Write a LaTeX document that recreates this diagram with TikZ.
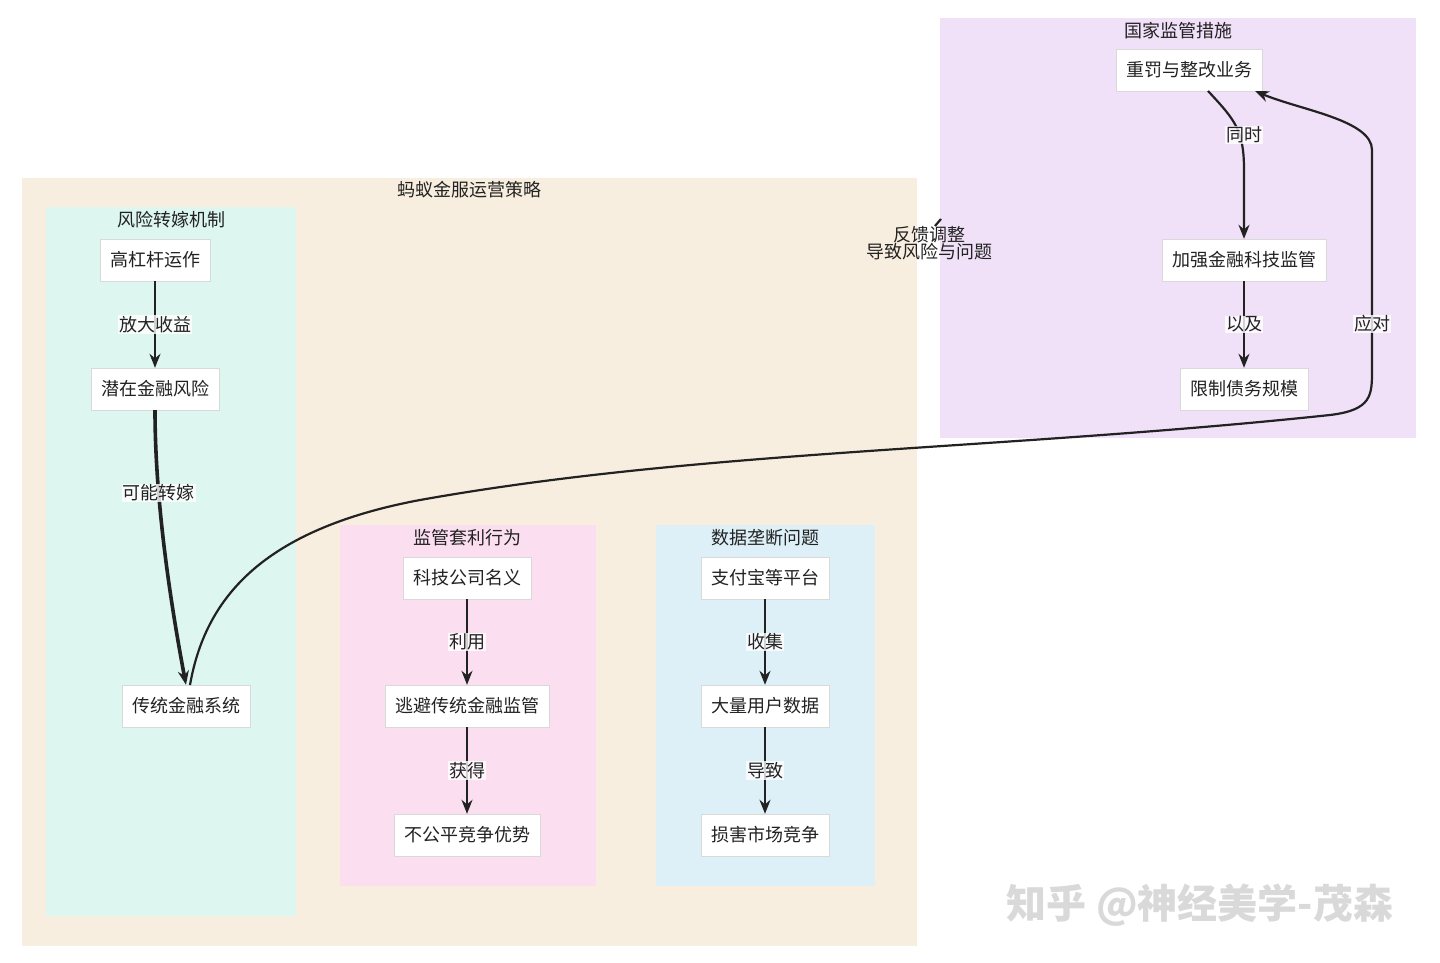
\documentclass[tikz,border=0pt]{standalone}
\usepackage{fontspec}
\setmainfont{Noto Sans CJK SC}
\usetikzlibrary{arrows.meta}
\definecolor{beige}{HTML}{F8EEDF}
\definecolor{mint}{HTML}{DDF6EF}
\definecolor{pinkc}{HTML}{FBDFF1}
\definecolor{bluec}{HTML}{DDEFF7}
\definecolor{lav}{HTML}{F0E0F8}
\definecolor{ink}{HTML}{222222}
\begin{document}
\begin{tikzpicture}[x=1pt,y=-1pt,
  box/.style={draw=black!15,fill=white,minimum height=42pt,inner xsep=10pt,font=\fontsize{18}{21}\selectfont,text=ink},
  lab/.style={fill=white,fill opacity=0.8,text opacity=1,inner sep=1pt,font=\fontsize{18}{21}\selectfont,text=ink},
  ttl/.style={font=\fontsize{18}{21}\selectfont,text=ink},
  arr/.style={draw=ink,line width=2.2pt,-{Stealth[length=14pt,width=11pt]}}]
\useasboundingbox (0,0) rectangle (1440,963);
\fill[white] (0,0) rectangle (1440,963);
\fill[beige] (22,178) rectangle (917,946);
\fill[mint] (46,207) rectangle (296,916);
\fill[pinkc] (340,525) rectangle (596,886);
\fill[bluec] (656,525) rectangle (875,886);
\fill[lav] (940,18) rectangle (1416,438);
\node[ttl] (t0) at (469,190) {蚂蚁金服运营策略};
\node[ttl] (t1) at (171,220) {风险转嫁机制};
\node[ttl] (t2) at (467,538) {监管套利行为};
\node[ttl] (t3) at (765,538) {数据垄断问题};
\node[ttl] (t4) at (1178,31) {国家监管措施};
\node[box] (a1) at (155,260) {高杠杆运作};
\node[box] (a2) at (155,389) {潜在金融风险};
\node[box] (a3) at (186,706) {传统金融系统};
\node[box] (b1) at (467,578) {科技公司名义};
\node[box] (b2) at (467,706) {逃避传统金融监管};
\node[box] (b3) at (467,835) {不公平竞争优势};
\node[box] (c1) at (765,578) {支付宝等平台};
\node[box] (c2) at (765,706) {大量用户数据};
\node[box] (c3) at (765,835) {损害市场竞争};
\node[box] (d1) at (1189,70) {重罚与整改业务};
\node[box] (d2) at (1244,260) {加强金融科技监管};
\node[box] (d3) at (1244,389) {限制债务规模};
\draw[arr] (a1) -- node[lab]{放大收益} (a2);
\draw[arr,line width=3.6pt] (a2.south) .. controls (155,500) and (170,600) .. node[lab,pos=0.3]{可能转嫁} (a3.north);
\draw[arr] (b1) -- node[lab]{利用} (b2);
\draw[arr] (b2) -- node[lab]{获得} (b3);
\draw[arr] (c1) -- node[lab]{收集} (c2);
\draw[arr] (c2) -- node[lab]{导致} (c3);
\draw[arr] (1208,91) .. controls (1235,120) and (1244,130) .. (1244,170) -- (d2.north);
\node[lab] (e0) at (1244,135) {同时};
\draw[arr] (d2) -- node[lab]{以及} (d3);
\draw[arr] (190,685) .. controls (205,600) and (260,530) .. (420,500)
  .. controls (700,450) and (1000,450) .. (1330,415)
  .. controls (1372,410) and (1372,395) .. (1372,370)
  -- (1372,150) .. controls (1372,120) and (1300,110) .. (1255,91);
\node[lab] (e1) at (1372,324) {应对};
\coordinate (m1) at (935,226);
\coordinate (m2) at (941,219);
\draw[ink,line width=2.2pt] (m1) -- (m2);
\node[ttl,inner sep=0pt] (l1) at (929,235) {反馈调整};
\node[ttl,inner sep=0pt] (l2) at (929,252) {导致风险与问题};
\node[font=\fontsize{40}{44}\selectfont\bfseries,text=black!15] (w) at (1200,905) {知乎 @神经美学-茂森};
\end{tikzpicture}
\end{document}
